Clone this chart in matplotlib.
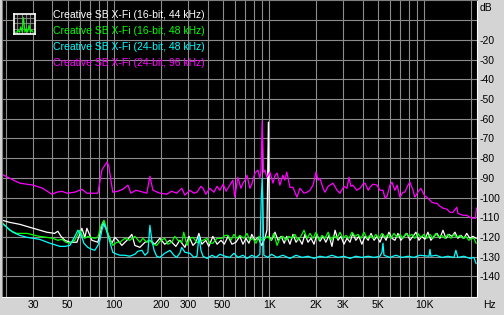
import numpy as np
import matplotlib
matplotlib.use("Agg")
import matplotlib.pyplot as plt

# spectrum data (Hz, dB)
mag_hz = [18.9, 21.2, 24.6, 30, 34.6, 39.6, 42.7, 46, 49.5, 55.7, 61.9, 66.7, 72.9, 78.5, 83.3, 87.1, 90, 92.4, 95.2, 98,
          105.6, 113.8, 122.6, 128.1, 138, 146.5, 162.5, 170, 177.8, 197, 218, 235, 253, 273, 286, 308, 327, 342, 363, 374,
          390, 414, 440, 461, 481, 505, 527, 557, 583, 600, 628, 657, 677, 698, 719, 750, 772, 809, 846, 871,
          885, 901, 920, 938, 967, 1010, 1058, 1090, 1124, 1172, 1225, 1262, 1298, 1361, 1423, 1510, 1579, 1677, 1753, 1833,
          1918, 2005, 2065, 2125, 2225, 2290, 2400, 2580, 2740, 2860, 3035, 3175, 3270, 3365, 3460, 3675, 3850, 4025, 4150, 4350,
          4467, 4670, 4960, 5180, 5420, 5590, 5760, 6010, 6190, 6470, 6680, 6970, 7290, 7500, 7860, 8090, 8460, 8710, 9090, 9500,
          9800, 10100, 10400, 10900, 11210, 11720, 12080, 12620, 13210, 14000, 14650, 15320, 16230, 16470, 17730, 18800, 19700, 20600, 21400, 21700]
mag_db = [-88.2, -90.2, -92.7, -93.7, -95.3, -98.3, -97.3, -96.8, -97.8, -97.3, -95.8, -97.8, -97.8, -97.8, -86.1, -83.6, -82, -84.1, -91.2, -97.3,
          -96.8, -95.8, -93.7, -97.8, -96.3, -96.8, -97.8, -89.2, -96.3, -97.8, -98.3, -96.8, -97.8, -95.3, -98.8, -96.3, -97.8, -97.3, -94.3, -95.3,
          -98.3, -95.3, -97.3, -94.3, -96.3, -93.2, -96.8, -93.7, -91.2, -99.8, -89.7, -95.3, -92.7, -91.2, -88.7, -95.3, -93.2, -87.6, -86.1, -90.2,
          -86.9, -61.2, -87.1, -86.1, -89.7, -87.1, -92.7, -88.7, -87.6, -93.7, -88.7, -91.2, -87.1, -94.8, -94.8, -99.8, -95.3, -97.8, -97.3, -96.3,
          -93.7, -87.1, -91.2, -90.2, -95.3, -97.3, -94.3, -92.7, -96.3, -97.8, -94.3, -95.3, -89.7, -94.3, -93.7, -96.3, -95.3, -93.2, -92.7, -96.3,
          -94.8, -93.2, -93.7, -96.3, -96.3, -100.4, -99.3, -93.7, -92.2, -96.3, -93.7, -99.8, -97.3, -97.3, -93.7, -92.2, -96.3, -99.8, -97.3, -95.3,
          -97.3, -99.3, -99.8, -101.4, -102.4, -102.9, -102.9, -104.4, -105.4, -105.9, -107.5, -107.5, -104.9, -108, -109, -109, -110, -110.5, -110.5, -105.4]

white_hz = [18.9, 21.2, 24.6, 30, 36.7, 41.3, 43.3, 45.4, 48.1, 51.8, 57.5, 61.9, 64.7, 66.7, 69.7, 71.8, 78.5, 84.5, 88.4, 92.4,
            96.6, 101, 105.6, 112, 121, 130, 136, 146.5, 158, 170, 183, 197, 212, 229, 250, 265, 286, 304, 322, 337,
            352, 368, 390, 408, 433, 461, 489, 513, 543, 575, 610, 647, 677, 708, 740, 772, 809, 846, 895, 938,
            967, 988, 1003, 1036, 1090, 1140, 1194, 1250, 1298, 1361, 1423, 1490, 1555, 1630, 1700, 1780, 1860, 1945, 2030, 2125,
            2225, 2320, 2430, 2540, 2660, 2780, 2900, 3035, 3175, 3320, 3460, 3620, 3790, 3960, 4150, 4350, 4540, 4750, 4960, 5180,
            5420, 5670, 5920, 6190, 6470, 6770, 7070, 7400, 7730, 8090, 8460, 8840, 9240, 9660, 10100, 10560, 11040, 11540, 12080, 12620,
            13210, 13800, 14430, 15090, 15780, 16470, 17240, 18020, 18800, 19700, 20600, 21600]
white_db = [-111.5, -112.6, -113.6, -115.6, -117.6, -118.2, -117.1, -119.7, -121.7, -122.7, -122.7, -115.6, -120.2, -115.6, -119.2, -121.7, -122.7, -112.6, -115.6, -119.7,
            -123.2, -120.2, -121.7, -124.3, -121.7, -118.7, -124.3, -125.3, -122.7, -121.7, -123.7, -120.7, -123.7, -121.7, -124.8, -121.7, -125.3, -119.7, -124.3, -122.7,
            -118.2, -123.7, -121.7, -124.8, -119.7, -123.7, -121.7, -123.7, -119.7, -123.7, -122.7, -119.7, -123.7, -120.7, -123.2, -118.7, -121.7, -120.2, -124.3, -120.7,
            -116.6, -61.7, -120.2, -121.7, -117.6, -121.7, -119.7, -123.2, -119.7, -123.7, -118.7, -122.7, -120.7, -123.7, -118.7, -122.7, -120.7, -123.7, -118.7, -122.2,
            -119.7, -122.7, -119.2, -124.8, -116.6, -121.7, -119.7, -123.7, -120.7, -122.7, -118.2, -121.7, -119.7, -123.7, -119.7, -121.7, -118.2, -121.7, -119.7, -122.7,
            -118.7, -121.7, -117.6, -120.7, -121.7, -118.2, -121.7, -119.7, -118.2, -121.7, -119.7, -117.6, -121.7, -119.7, -121.2, -117.6, -121.7, -119.7, -118.2, -120.7,
            -116.6, -120.7, -118.7, -119.7, -117.6, -120.7, -119.2, -120.7, -118.2, -120.7, -119.7, -120.7]

green_hz = [18.9, 20, 21.2, 23.5, 27.4, 30.8, 33, 36.7, 40.2, 43.3, 46, 48.8, 51.8, 55.7, 60, 62.8, 64.7, 67.6, 70.8, 75,
            78.5, 82.1, 86, 88.4, 92.4, 98, 104, 109, 117, 126, 136, 146.5, 153, 162.5, 170, 177.8, 188, 200, 212, 222,
            235, 246, 258, 273, 281, 295, 308, 322, 342, 357, 374, 397, 414, 433, 461, 481, 496, 519, 543, 567,
            592, 620, 647, 687, 719, 750, 783, 822, 858, 895, 938, 981, 1025, 1071, 1124, 1172, 1225, 1280, 1340, 1400,
            1465, 1530, 1600, 1677, 1753, 1833, 1918, 2005, 2095, 2190, 2290, 2400, 2510, 2620, 2740, 2860, 2990, 3130, 3270, 3420,
            3580, 3740, 3910, 4090, 4280, 4467, 4670, 4880, 5100, 5340, 5590, 5840, 6100, 6380, 6680, 6970, 7290, 7620, 7960, 8330,
            8710, 9090, 9500, 9930, 10400, 10900, 11380, 11900, 12440, 13000, 13590, 14210, 14870, 15540, 16230, 16980, 17730, 18550, 19400, 20300,
            20900, 21600]
green_db = [-112.6, -114.6, -116.6, -118.2, -118.2, -119.2, -119.7, -120.2, -120.7, -121.7, -121.2, -122.7, -123.2, -121.7, -116.6, -119.7, -120.7, -119.7, -120.2, -120.7,
            -120.2, -114.6, -111.5, -114.6, -119.7, -124.3, -122.7, -122.7, -120.7, -121.7, -119.7, -122.7, -120.7, -122.7, -121.7, -123.7, -124.3, -121.7, -120.7, -123.7,
            -122.7, -119.7, -121.7, -122.7, -117.6, -124.3, -120.7, -120.2, -122.7, -122.7, -121.7, -120.7, -123.2, -123.2, -120.7, -120.7, -120.7, -119.2, -119.2, -121.7,
            -118.7, -120.7, -119.2, -120.7, -118.2, -121.7, -120.7, -123.2, -119.7, -121.7, -120.7, -119.7, -121.7, -118.2, -124.3, -120.7, -119.7, -121.7, -119.7, -120.7,
            -118.7, -121.7, -119.7, -116.6, -120.7, -118.2, -120.7, -117.6, -121.7, -119.2, -120.7, -117.6, -121.7, -119.2, -120.7, -117.6, -120.7, -119.2, -120.7, -117.6,
            -119.7, -118.7, -120.7, -117.6, -120.7, -119.2, -120.7, -118.7, -120.7, -118.2, -120.2, -118.7, -120.7, -118.2, -120.2, -118.7, -120.7, -118.2, -119.7, -118.7,
            -120.7, -118.2, -120.2, -118.7, -120.7, -118.7, -120.7, -118.2, -120.2, -119.2, -120.7, -118.7, -120.7, -118.7, -120.2, -119.2, -120.7, -119.7, -121.7, -120.7,
            -120.7, -123.2]

cyan_hz = [18.9, 22.2, 24.6, 27.4, 33, 38.5, 44.7, 48.1, 51.8, 55.7, 58.3, 61, 63.8, 67.6, 71.8, 75, 78.5, 80.9, 83.3, 86,
           88.4, 91.1, 95.2, 98, 104, 109, 117, 126, 136, 142, 151, 158, 165, 170, 175, 181, 188, 197, 212, 229,
           243, 253, 265, 273, 286, 308, 327, 342, 352, 363, 374, 397, 428, 453, 481, 519, 557, 592, 628, 677,
           719, 772, 822, 871, 888, 901, 910, 924, 981, 1036, 1124, 1225, 1361, 1490, 1630, 1780, 1945, 2125, 2320, 2540,
           2780, 3035, 3320, 3620, 3960, 4350, 4750, 5180, 5340, 5420, 5500, 6010, 6570, 7180, 7860, 8580, 9380, 10730, 10890, 11040,
           11900, 13000, 14210, 15540, 16000, 16470, 18020, 19700, 20900, 21600]
cyan_db = [-113.1, -117.6, -119.2, -120.2, -121.2, -123.2, -124.8, -124.8, -124.3, -119.7, -116.6, -118.7, -123.2, -125.3, -126.3, -126.8, -124.3, -121.7, -116.6, -113.1,
           -115.6, -119.2, -124.3, -127.8, -128.8, -129.3, -129.3, -129.8, -128.8, -127.3, -126.8, -129.3, -127.8, -114.1, -121.7, -126.8, -129.8, -130.4, -128.3, -126.8,
           -129.3, -130.4, -128.3, -125.3, -127.8, -128.3, -130.4, -129.8, -119.7, -126.8, -129.8, -130.9, -129.3, -130.4, -128.8, -129.8, -130.4, -128.3, -130.4, -129.3,
           -130.9, -129.3, -130.4, -128.8, -101.4, -90.2, -101.4, -129.3, -130.4, -128.8, -130.4, -129.3, -130.9, -129.3, -130.4, -129.8, -130.9, -129.8, -130.4, -129.3,
           -130.4, -129.8, -130.9, -129.8, -130.4, -129.8, -130.4, -129.8, -127.8, -123.2, -129.3, -130.4, -129.3, -130.4, -129.8, -130.4, -129.3, -129.8, -126.3, -129.8,
           -129.3, -130.4, -129.8, -130.4, -126.8, -130.4, -129.8, -130.9, -130.4, -133.5]

names = ["Creative SB X-Fi (16-bit, 44 kHz)", "Creative SB X-Fi (16-bit, 48 kHz)",
         "Creative SB X-Fi (24-bit, 48 kHz)", "Creative SB X-Fi (24-bit, 96 kHz)"]
colors = ["#ffffff", "#00ff00", "#00ffff", "#ff00ff"]

xt = [30, 50, 100, 200, 300, 500, 1000, 2000, 3000, 5000, 10000]
xt_lab = ["30", "50", "100", "200", "300", "500", "1K", "2K", "3K", "5K", "10K"]
yt = list(range(-140, 0, 10))

# little spectrum drawn inside the legend icon
icon_y = [1, 1, 2, 1, 4, 1, 9, 1, 3, 1, 5, 1, 2, 1]

plt.rcParams['font.family'] = ['Liberation Sans', 'DejaVu Sans']
fig = plt.figure(figsize=(5.04, 3.15), dpi=100, facecolor="#d4d4d4")
ax = fig.add_axes([2/504, 18/315, 474.7/504, 297/315], facecolor="black")

series = [(white_hz, white_db), (green_hz, green_db), (cyan_hz, cyan_db), (mag_hz, mag_db)]
for (hz, db), c in zip(series, colors):
    ax.plot(hz, db, color=c, lw=0.9)

ax.set_xscale("log")
ax.set_xlim(18.9, 21800)
ax.set_ylim(-150.5, 0.3)

grid_f = [m * 10**d for d in range(1, 5) for m in range(1, 10) if 20 <= m * 10**d <= 20000]
ax.set_xticks(grid_f, minor=True)
ax.set_xticks(xt)
ax.set_xticklabels(xt_lab, fontsize=7.5)
ax.set_xticklabels([], minor=True)
ax.set_yticks(yt)
ax.set_yticklabels([("" if v == -10 else str(v)) for v in yt], fontsize=7.5)
ax.yaxis.tick_right()
ax.tick_params(axis="both", which="both", length=0)
ax.tick_params(axis="x", pad=2)
ax.tick_params(axis="y", pad=2)
ax.grid(True, which="both", color="#8c8c8c", lw=0.8)
ax.set_axisbelow(True)
for s in ["left", "top"]:
    ax.spines[s].set_color("#808080")
for s in ["right", "bottom"]:
    ax.spines[s].set_color("#ffffff")

fig.text(480/504, 1 - 8/315, "dB", fontsize=7.5, va="center", ha="left")
fig.text(483/504, 1 - 305/315, "Hz", fontsize=7.5, va="center", ha="left")

# legend: icon + coloured labels
ic = fig.add_axes([14/504, 1 - 34/315, 20.5/504, 20/315], facecolor="#101010")
ic.plot(range(len(icon_y)), icon_y, color="#00ff00", lw=0.8)
ic.set_xlim(-1, len(icon_y))
ic.set_ylim(0, 11)
ic.set_xticks([1.5, 4.5, 7.5, 10.5])
ic.set_yticks([3, 6, 9])
ic.tick_params(length=0, labelbottom=False, labelleft=False)
ic.grid(True, color="#909090", lw=0.6)
ic.set_axisbelow(True)
for s in ic.spines.values():
    s.set_color("white")
    s.set_linewidth(1.2)
for i, (n, c) in enumerate(zip(names, colors)):
    fig.text(53/504, 1 - (15 + 15.9*i)/315, n, color=c, fontsize=7.5, va="center", ha="left")

fig.savefig("out.png", dpi=100, facecolor=fig.get_facecolor())
